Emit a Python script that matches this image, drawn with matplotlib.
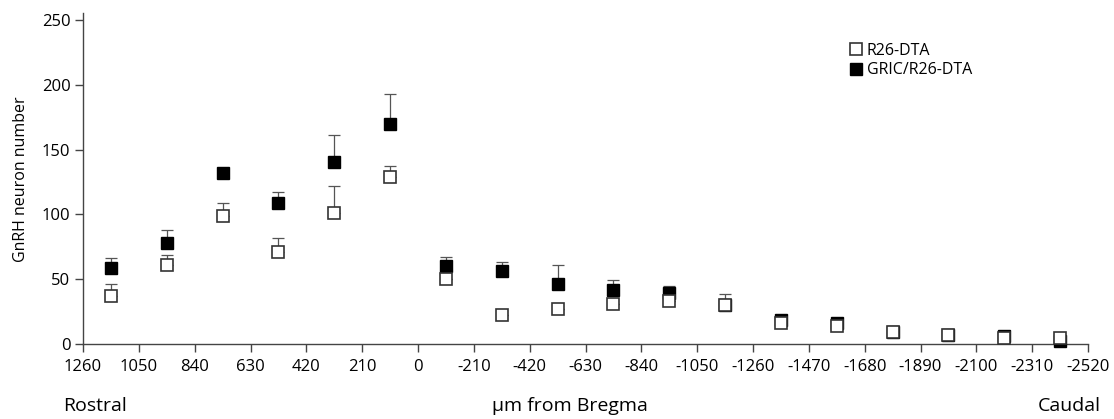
import numpy as np
import matplotlib.pyplot as plt

plt.rcParams['font.family'] = ['Open Sans', 'DejaVu Sans']

# positions (um from Bregma) and tick labels
positions = [1155, 945, 735, 525, 315, 105, -105, -315, -525, -735, -945,
             -1155, -1365, -1575, -1785, -1995, -2205, -2415]
tick_values = list(range(1260, -2521, -210))

# R26-DTA (open squares)
r26_mean = [37, 61, 99, 71, 101, 129, 50, 22, 27, 31, 33,
            30, 16, 14, 9.5, 7, 4.5, 4.5]
r26_err = [9, 8, 10, 10.5, 21, 8.5, 0, 0, 0, 0, 0,
           8.5, 0, 0, 0, 0, 0, 0]

# GRIC/R26-DTA (filled squares)
gric_mean = [59, 78, 132, 109, 140, 170, 60, 56, 46, 42, 39,
             30, 18.5, 16, 9.5, 7, 6.5, 2.5]
gric_err = [7.5, 10, 2, 8.5, 21, 22.5, 7, 7.5, 15, 7, 5.5,
            0, 0, 0, 0, 0, 0, 0]

fig = plt.figure(figsize=(11.14, 4.19), dpi=100)
ax = fig.add_axes([0.0745, 0.179, 0.9022, 0.789])

ecol = '#555555'
zeros = np.zeros(len(positions))
ax.errorbar(positions, r26_mean, yerr=[zeros, r26_err], fmt='none',
            ecolor=ecol, elinewidth=0.9, capsize=4, capthick=0.9, zorder=1)
ax.errorbar(positions, gric_mean, yerr=[zeros, gric_err], fmt='none',
            ecolor=ecol, elinewidth=0.9, capsize=4, capthick=0.9, zorder=1)
ax.plot(positions, gric_mean, 's', ms=8, mfc='black', mec='black', mew=1.0,
        linestyle='none', zorder=3, clip_on=False, label='GRIC/R26-DTA')
ax.plot(positions, r26_mean, 's', ms=8, mfc='white', mec='#333333', mew=1.2,
        linestyle='none', zorder=4, clip_on=False, label='R26-DTA')

ax.set_xlim(1260, -2520)
ax.set_ylim(0, 255)
ax.set_xticks(tick_values)
ax.set_xticklabels([str(v) for v in tick_values])
ax.set_yticks([0, 50, 100, 150, 200, 250])

for side in ['top', 'right']:
    ax.spines[side].set_visible(False)
for side in ['left', 'bottom']:
    ax.spines[side].set_color('#444444')
    ax.spines[side].set_linewidth(1.0)
ax.spines['left'].set_bounds(0, 255)
ax.tick_params(axis='both', direction='out', length=6, width=1.0,
               color='#444444', labelsize=12, pad=3)
ax.tick_params(axis='x', pad=5)

ax.set_ylabel('GnRH neuron number', fontsize=11.5)
ax.yaxis.set_label_coords(-0.054, 0.5)

handles, labels = ax.get_legend_handles_labels()
ax.legend(handles[::-1], labels[::-1], loc='upper left',
          bbox_to_anchor=(0.753, 0.93), frameon=False, fontsize=11.5,
          handletextpad=0.1, handlelength=1.2, labelspacing=0.2,
          borderaxespad=0)

fig.text(0.0565, 0.031, 'Rostral', fontsize=14, ha='left', va='center')
fig.text(0.512, 0.031, '\u03bcm from Bregma', fontsize=14, ha='center', va='center')
fig.text(0.988, 0.031, 'Caudal', fontsize=14, ha='right', va='center')

fig.savefig('out.png', dpi=100)
